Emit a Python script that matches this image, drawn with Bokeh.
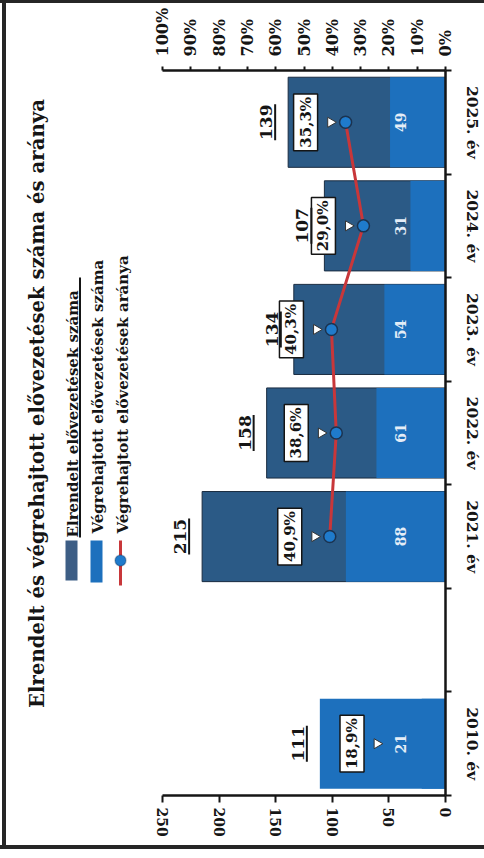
import math
from bokeh.plotting import figure
from bokeh.models import (Range1d, LinearAxis, FixedTicker, PrintfTickFormatter,
                          ColumnDataSource, Label, BoxAnnotation)
from bokeh.core.properties import value
from bokeh.embed import file_html
from bokeh.resources import INLINE

# ---------------- data ----------------
TITLE = "Elrendelt és végrehajtott elővezetések száma és aránya"
slots = ["2010. év", "", "2021. év", "2022. év", "2023. év", "2024. év", "2025. év"]
years = ["2010. év", "2021. év", "2022. év", "2023. év", "2024. év", "2025. év"]
ordered = [111, 215, 158, 134, 107, 139]          # Elrendelt elővezetések száma
executed = [21, 88, 61, 54, 31, 49]               # Végrehajtott elővezetések száma
ratio_pct = [18.9, 40.9, 38.6, 40.3, 29.0, 35.3]  # Végrehajtott elővezetések aránya
value_ticks = [0, 50, 100, 150, 200, 250]
pct_ticks = [0, 10, 20, 30, 40, 50, 60, 70, 80, 90, 100]
legend_labels = ["Elrendelt elővezetések száma",
                 "Végrehajtott elővezetések száma",
                 "Végrehajtott elővezetések aránya"]

# ---------------- style / layout ----------------
DARK = "#2b5a86"
LIGHT = "#1d70bd"
RED = "#c8373a"
MARK = "#1f7bcc"
INK = "#151515"
FONT = "DejaVu Serif"
ANG = math.pi / 2

W, H = 484, 858
FRAME_L, FRAME_B = 0, 795          # frame left / bottom (px)
AX250, AX0 = 162, 445              # px position of the 250 and 0 values


def sx(px):   # canvas x -> frame screen x
    return px - FRAME_L


def sy(py):   # canvas y -> frame screen y (upward from frame bottom)
    return FRAME_B - py


vmax = value_ticks[-1]
x_start = vmax * (AX0 - FRAME_L) / (AX0 - AX250)
px_per_pct = (AX0 - AX250) / pct_ticks[-1]
px_per_val = (AX0 - AX250) / vmax

pos = [slots.index(y) for y in years]
src = ColumnDataSource(dict(
    pos=pos, ordered=ordered, executed=executed, ratio=ratio_pct,
    arrow_x=[r + 15 / px_per_pct for r in ratio_pct],
    uline_x=[v + 13 / px_per_val for v in ordered],
    ordered_lbl=[str(v) for v in ordered],
    executed_lbl=[str(v) for v in executed],
    ratio_lbl=[f"{r:.1f}%".replace(".", ",") for r in ratio_pct],
    ordered_fill=[LIGHT if i == 0 else DARK for i in range(len(years))],
    ordered_line=[None if i == 0 else "#1a2c40" for i in range(len(years))],
))
line_src = ColumnDataSource(dict(pos=pos[1:], ratio=ratio_pct[1:]))

p = figure(width=W, height=H, output_backend="svg", toolbar_location=None,
           x_range=Range1d(x_start, 0),
           y_range=Range1d(-0.5, len(slots) - 0.5),
           x_axis_location="below", y_axis_location="right",
           min_border_left=0, min_border_right=W - AX0,
           min_border_top=70, min_border_bottom=H - FRAME_B)
p.title.visible = False
p.extra_x_ranges = {"pct": Range1d(x_start * pct_ticks[-1] / vmax, 0)}
p.grid.visible = False
p.outline_line_color = None
p.background_fill_color = None
p.border_fill_color = None
LINE = "linear-gradient(#262626,#262626)"
p.styles = {"background": f"{LINE} 0 0/100% 3px no-repeat, "
                          f"{LINE} 2px 0/4px 849px no-repeat, "
                          f"{LINE} 0 845px/100% 4px no-repeat, white"}

# bars
p.hbar(y="pos", left=0, right="ordered", height=0.87, fill_color="ordered_fill",
       line_color="ordered_line", line_width=1, source=src)
p.hbar(y="pos", left=0, right="executed", height=0.87, fill_color=LIGHT,
       line_color=None, source=src)

# ratio line
p.line(x="ratio", y="pos", x_range_name="pct", line_color=RED, line_width=3,
       source=line_src)
p.scatter(x="ratio", y="pos", x_range_name="pct", size=12, fill_color=MARK,
          line_color="#1b3350", line_width=1.5, source=line_src)

# callout arrows + labels
p.scatter(x="arrow_x", y="pos", x_range_name="pct", marker="triangle", angle=-ANG,
          size=10, fill_color="white", line_color="#333333", line_width=1,
          source=src)
txt = dict(angle=ANG, text_align="center", text_baseline="middle",
           text_font=value(FONT), text_font_style="bold")
p.text(x="ratio", y="pos", text="ratio_lbl", x_range_name="pct", x_offset=-40,
       text_font_size="15px", text_color=INK, background_fill_color="white",
       border_line_color=INK, border_line_width=1.5, padding=3, source=src, **txt)
p.text(x="ordered", y="pos", text="ordered_lbl", x_offset=-22,
       text_font_size="17px", text_color=INK, source=src, **txt)
p.rect(x="uline_x", y="pos", width=2, height=36, width_units="screen",
       height_units="screen", fill_color=INK, line_color=None, source=src)
p.text(x=0, y="pos", text="executed_lbl", x_offset=-45,
       text_font_size="14px", text_color="#e4edf7", source=src, **txt)

# axes
xa = p.xaxis[0]
xa.ticker = FixedTicker(ticks=value_ticks)
xa.bounds = (value_ticks[0], value_ticks[-1])
ya = p.yaxis[0]
ya.ticker = FixedTicker(ticks=pos, minor_ticks=[i - 0.5 for i in range(len(slots) + 1)])
ya.major_label_overrides = {pp: y for pp, y in zip(pos, years)}
pa = LinearAxis(x_range_name="pct", ticker=FixedTicker(ticks=pct_ticks),
                formatter=PrintfTickFormatter(format="%d%%"),
                bounds=(pct_ticks[0], pct_ticks[-1]))
p.add_layout(pa, "above")

for ax in (xa, ya, pa):
    ax.axis_label = None
    ax.axis_line_color = INK
    ax.axis_line_width = 2.5
    ax.major_label_text_font = FONT
    ax.major_label_text_font_style = "bold"
    ax.major_label_text_font_size = "14px"
    ax.major_label_text_color = INK
    ax.major_label_orientation = "vertical"
    ax.major_tick_line_color = INK
    ax.major_tick_line_width = 2
    ax.minor_tick_line_color = INK
    ax.minor_tick_line_width = 2
    ax.major_tick_in = 0
    ax.minor_tick_in = 0
xa.major_tick_out = 7
xa.minor_tick_out = 0
xa.major_label_standoff = 5
pa.major_tick_out = 4
pa.minor_tick_out = 0
pa.major_label_standoff = 10
pa.major_label_text_font_size = "16px"
ya.major_tick_out = 0
ya.minor_tick_out = 6
ya.major_label_standoff = 11
ya.major_label_text_font_size = "15.5px"

# title (rotated, left side)
p.add_layout(Label(x=sx(37), y=sy(403), x_units="screen", y_units="screen",
                   text=TITLE, angle=ANG, text_align="center",
                   text_baseline="middle", text_font=FONT, text_font_style="bold",
                   text_font_size="19.7px", text_color=INK))

# manual rotated legend
for lx, ly, lab in zip([72, 97, 122], [537, 533, 533], legend_labels):
    p.add_layout(Label(x=sx(lx), y=sy(ly), x_units="screen", y_units="screen",
                       text=lab, angle=ANG, text_align="left",
                       text_baseline="middle", text_font=FONT,
                       text_font_style="bold", text_font_size="15px",
                       text_color=INK))


def box(l, r, t, b, **kw):
    return BoxAnnotation(left=sx(l), right=sx(r), top=sy(t), bottom=sy(b),
                         left_units="screen", right_units="screen",
                         top_units="screen", bottom_units="screen", **kw)


p.add_layout(box(65, 77, 540, 580, fill_color="#3d5e85", fill_alpha=1, line_color=None))
p.add_layout(box(90, 102, 540, 582, fill_color=LIGHT, fill_alpha=1, line_color=None))
p.add_layout(box(118.5, 121.5, 540, 585, fill_color=RED, fill_alpha=1, line_color=None))
p.add_layout(box(114.5, 125.5, 554.5, 565.5, fill_color=MARK, fill_alpha=1,
                 line_color="#1b3350", line_width=1.5, border_radius=6))
p.add_layout(box(78.5, 80.5, 277, 537, fill_color=INK, fill_alpha=1, line_color=None))

open("out.html", "w").write(file_html(p, INLINE))
